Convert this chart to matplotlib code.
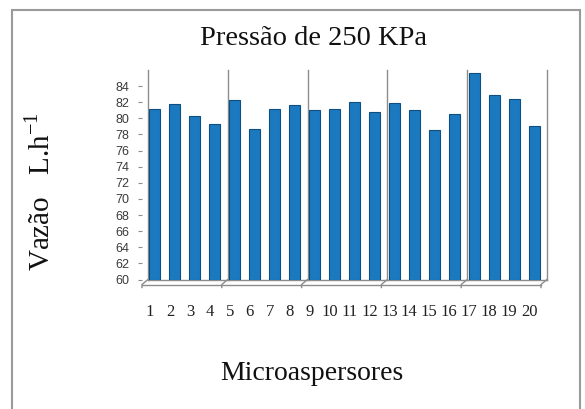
import numpy as np
import matplotlib
matplotlib.use("Agg")
import matplotlib.pyplot as plt
import matplotlib.transforms as mtransforms
from matplotlib.patches import Rectangle

# Data
microaspersores = list(range(1, 21))
vazao = [81.1, 81.8, 80.3, 79.3, 82.3, 78.7, 81.2, 81.7, 81.0, 81.1,
         82.0, 80.8, 81.9, 81.0, 78.5, 80.5, 85.6, 82.9, 82.4, 79.1]
yticks = list(range(60, 86, 2))

title = "Pressão de 250 KPa"
xlabel = "Microaspersores"
ylabel = "Vazão   L.h$^{\\mathregular{-1}}$"

W, H = 585, 409
fig = plt.figure(figsize=(W / 100, H / 100), dpi=100)
fig.patch.set_facecolor("white")

serif = "Liberation Serif"
grey = "#8c8c8c"

# outer frame
fig.patches.append(Rectangle((12 / W, -0.02), (580 - 12) / W, 1 - 10 / H + 0.02,
                             transform=fig.transFigure, fill=False,
                             edgecolor="#9a9a9a", linewidth=1.5))

# plot area (back wall) in pixels
left, right, top, bottom = 148, 547, 70, 279.5
ax = fig.add_axes([left / W, 1 - bottom / H, (right - left) / W, (bottom - top) / H])
ax.set_facecolor("none")

x = np.array(microaspersores)
v = np.array(vazao)
ax.bar(x, v - 60, bottom=60, width=0.55, color="#1b7abf",
       edgecolor="#0f4f80", linewidth=0.8, zorder=3)

ax.set_xlim(0.65, 20.65)
ax.set_ylim(60, 86)

for s in ax.spines.values():
    s.set_visible(False)

# back wall lines every 4 bars
walls = np.arange(0.65, 20.7, 4)
for w in walls:
    ax.plot([w, w], [60, 86], color=grey, lw=1, zorder=1, clip_on=False)

# floor (front edge shifted down-left)
blend = mtransforms.blended_transform_factory(ax.transData, ax.transAxes)
shift = mtransforms.ScaledTranslation(-6 / 100, -5 / 100, fig.dpi_scale_trans)
front = blend + shift
tick_shift = front + mtransforms.ScaledTranslation(0, -3 / 100, fig.dpi_scale_trans)
ax.plot([walls[0], walls[-1]], [0, 0], transform=blend, color=grey, lw=1, clip_on=False)
ax.plot([walls[0], walls[-1]], [0, 0], transform=front, color=grey, lw=1, clip_on=False)
inv = fig.transFigure.inverted()
for w in walls:
    # diagonal from back floor to front floor plus a small tick
    a = inv.transform(blend.transform((w, 0)))
    b = inv.transform(front.transform((w, 0)))
    c = inv.transform(tick_shift.transform((w, 0)))
    fig.add_artist(plt.Line2D([a[0], b[0], c[0]], [a[1], b[1], c[1]],
                              transform=fig.transFigure, color=grey, lw=1))

# y axis ticks
ax.spines["left"].set_position(("outward", 4.3))
ax.set_yticks(yticks)
ax.set_yticklabels([str(t) for t in yticks],
                   fontfamily=["Liberation Sans Narrow", "Liberation Sans"],
                   fontsize=9, color="#3a3a3a")
ax.tick_params(axis="y", length=3, color=grey, pad=6)

# x axis labels
ax.set_xticks(x)
ax.set_xticklabels([str(i) for i in microaspersores], fontfamily=serif,
                   fontsize=12, color="#222222")
ax.tick_params(axis="x", length=0, pad=18)
lab_shift = mtransforms.ScaledTranslation(-5 / 100, 0, fig.dpi_scale_trans)
for lab in ax.get_xticklabels():
    lab.set_transform(lab.get_transform() + lab_shift)

fig.text(314 / W, 1 - 45 / H, title, fontfamily=serif, fontsize=20.5,
         ha="center", va="baseline", color="#111111")
fig.text(312 / W, 1 - 380 / H, xlabel, fontfamily=serif, fontsize=20,
         ha="center", va="baseline", color="#111111")
fig.text(40 / W, 1 - 192 / H, ylabel, fontfamily=serif, fontsize=21,
         rotation=90, ha="center", va="center", color="#111111")

fig.savefig("out.png", dpi=100, facecolor="white")
